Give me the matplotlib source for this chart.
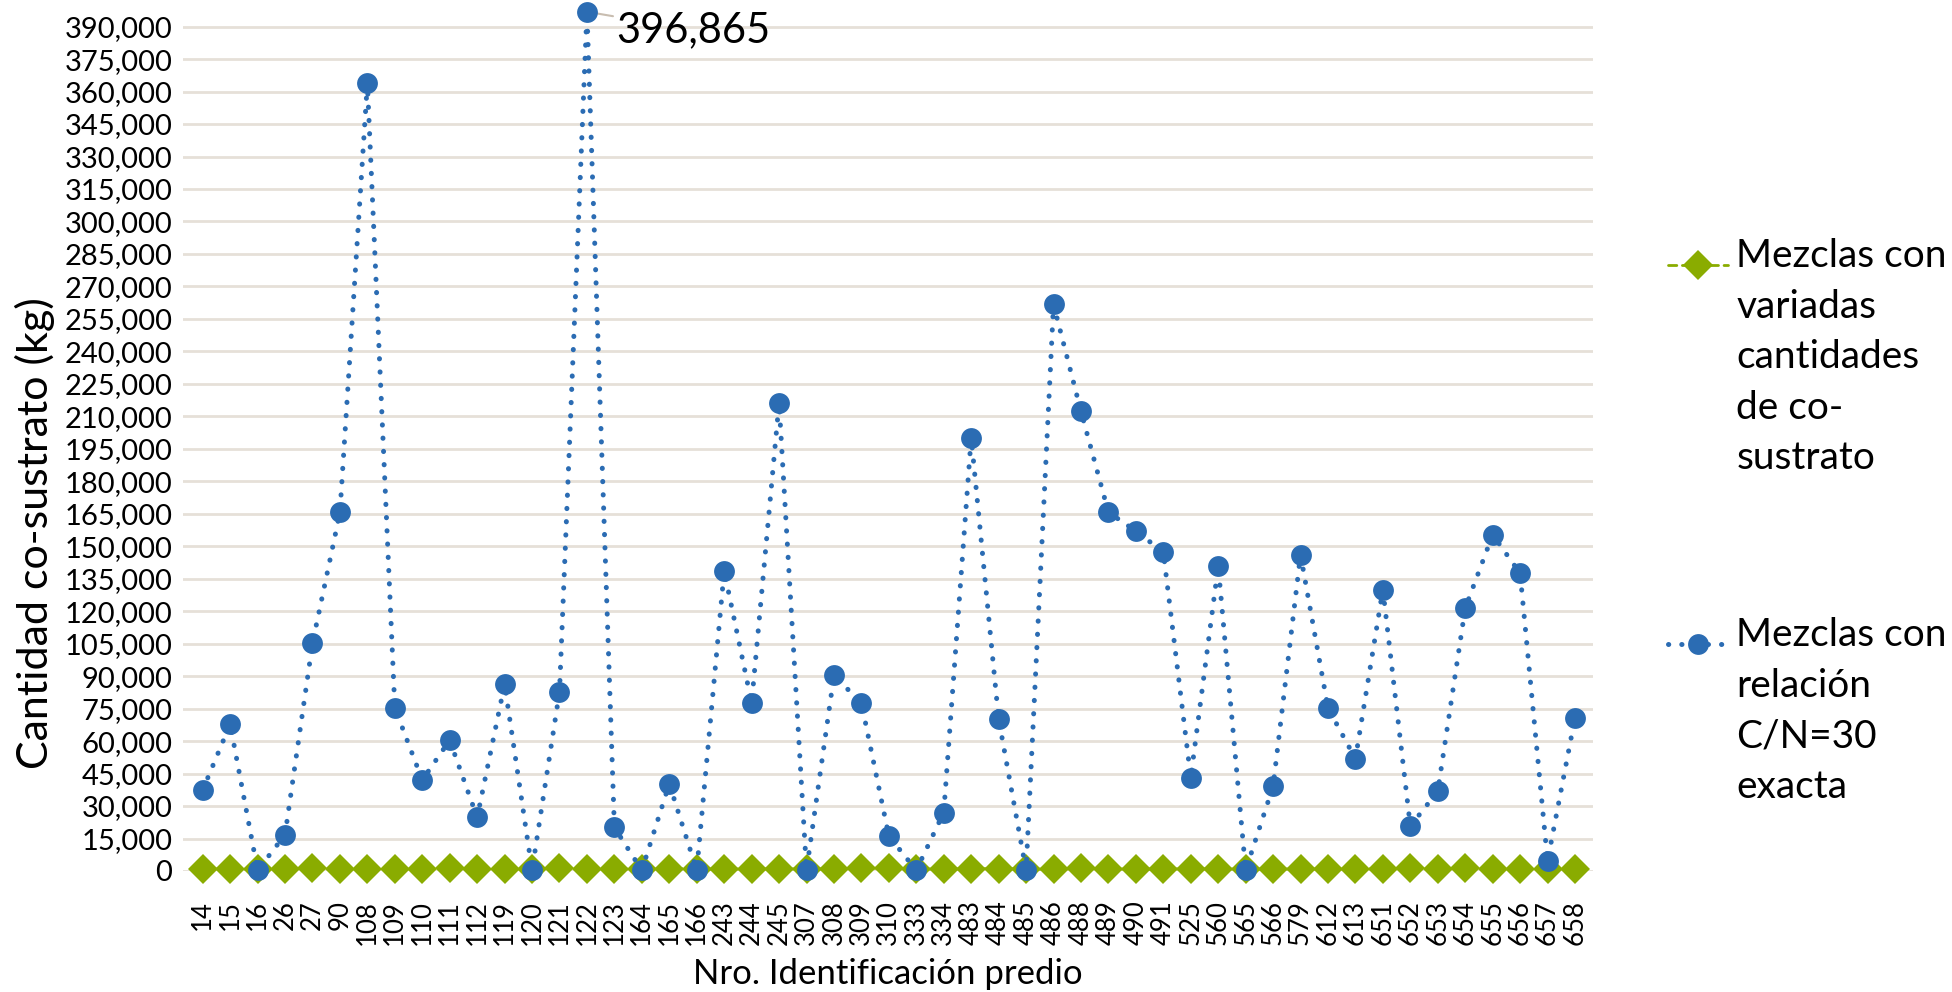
import matplotlib

matplotlib.use("Agg")
import matplotlib.pyplot as plt
from matplotlib.lines import Line2D
from matplotlib.ticker import FuncFormatter, MultipleLocator

plt.rcParams["font.family"] = ["Lato", "DejaVu Sans"]

predios = ["14", "15", "16", "26", "27", "90", "108", "109", "110", "111",
           "112", "119", "120", "121", "122", "123", "164", "165", "166", "243",
           "244", "245", "307", "308", "309", "310", "333", "334", "483", "484",
           "485", "486", "488", "489", "490", "491", "525", "560", "565", "566",
           "579", "612", "613", "651", "652", "653", "654", "655", "656", "657",
           "658"]

# C/N = 30 exact mixes (kg co-substrate)
cn30 = [37400, 67800, 300, 16700, 105200, 165600, 364000, 75300, 42000, 60400,
        24700, 86300, 300, 82800, 396865, 20100, 300, 40300, 300, 138600,
        77600, 216300, 300, 90300, 77600, 16100, 300, 27000, 200200, 70200,
        300, 261700, 212300, 165700, 157000, 147300, 43100, 140900, 300, 39100,
        146100, 75300, 51800, 130000, 20700, 36800, 121400, 155300, 137500, 4600,
        70800]

# mixes with varied co-substrate amounts
variadas = [1100, 900, 800, 900, 1200, 1100, 900, 1000, 900, 1200,
            900, 1000, 900, 1300, 900, 900, 900, 1100, 900, 900,
            900, 1000, 900, 1000, 1300, 1200, 900, 900, 1000, 1100,
            900, 800, 1200, 900, 900, 900, 1000, 900, 900, 900,
            900, 900, 900, 1000, 1200, 1100, 1200, 1000, 900, 1000,
            1000]

BLUE = "#2b6cb3"
GREEN = "#8aac00"
DOTS = (0, (0.05, 2.6))
DASH = (0, (3, 2))

fig = plt.figure(figsize=(19.52, 9.92), dpi=100)
ax = fig.add_axes([0.094, 0.122, 0.722, 0.873])

x = list(range(len(predios)))
ax.plot(x, variadas, color=GREEN, lw=2, ls=DASH, marker="D",
        markersize=15, markeredgewidth=0, zorder=3, clip_on=False)
ax.plot(x, cn30, color=BLUE, lw=3.6, ls=DOTS, dash_capstyle="round",
        marker="o", markersize=15, markeredgewidth=0, zorder=4, clip_on=False)

imax = cn30.index(max(cn30))
ax.annotate(f"{max(cn30):,}", xy=(imax, max(cn30)),
            xytext=(imax + 1.05, 388500), fontsize=30, va="center",
            ha="left",
            arrowprops=dict(arrowstyle="-", color="#c8bdb0", lw=1.5,
                            shrinkA=0, shrinkB=4))

ax.set_xlim(-0.7, len(predios) - 0.35)
ax.set_ylim(0, 400000)
ax.yaxis.set_major_locator(MultipleLocator(15000))
ax.yaxis.set_major_formatter(FuncFormatter(lambda v, p: f"{int(v):,}"))
ax.set_xticks(x)
ax.set_xticklabels(predios, rotation=90, fontsize=18.5)
ax.tick_params(axis="y", labelsize=21, length=0, pad=8)
ax.tick_params(axis="x", length=0, pad=21)
ax.grid(axis="y", color="#e6e0d8", lw=2)
ax.set_axisbelow(True)
for s in ax.spines.values():
    s.set_visible(False)

ax.set_ylabel("Cantidad co-sustrato (kg)", fontsize=31)
ax.yaxis.set_label_coords(-0.091, 0.39)
ax.set_xlabel("Nro. Identificación predio", fontsize=25, labelpad=9)

# legend, drawn by hand so the marker sits on the first text line
lx0, lx1, tx = 0.8545, 0.8855, 0.8895
for ypos, col, ls, lw, mk, label in [
    (0.733, GREEN, DASH, 2, "D",
     "Mezclas con\nvariadas\ncantidades\nde co-\nsustrato"),
    (0.351, BLUE, DOTS, 3.6, "o",
     "Mezclas con\nrelación\nC/N=30\nexacta"),
]:
    fig.add_artist(Line2D([lx0, lx1], [ypos, ypos], color=col, lw=lw, ls=ls,
                          dash_capstyle="round", transform=fig.transFigure))
    fig.add_artist(Line2D([(lx0 + lx1) / 2], [ypos], color=col, marker=mk,
                          markersize=15, markeredgewidth=0, ls="none",
                          transform=fig.transFigure))
    fig.text(tx, ypos + 0.027, label, fontsize=28, va="top", ha="left",
             linespacing=1.5)

fig.savefig("out.png", dpi=100)
